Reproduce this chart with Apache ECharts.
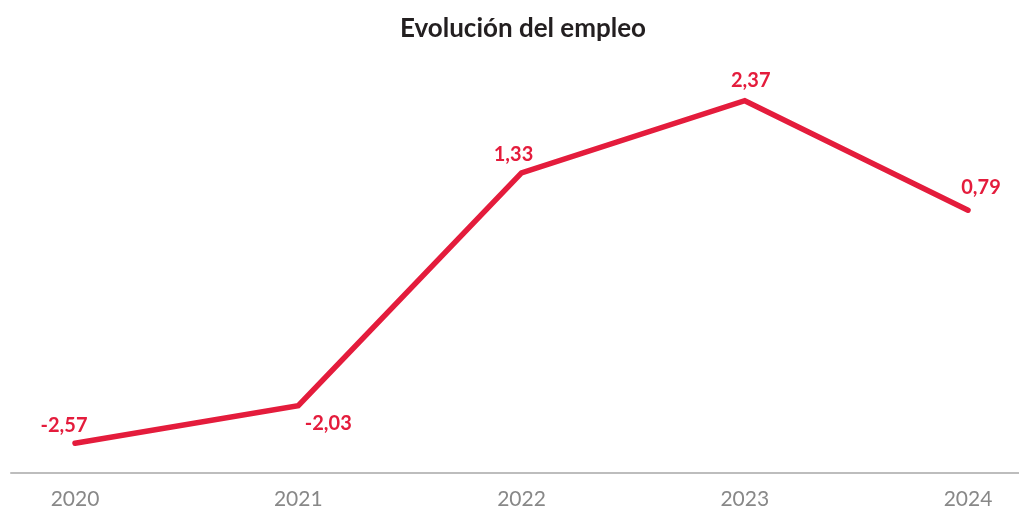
<!DOCTYPE html>
<html>
<head>
<meta charset="utf-8">
<script src="https://cdn.jsdelivr.net/npm/echarts@6/dist/echarts.min.js"></script>
<style>
  html, body { margin: 0; padding: 0; background: #fff; }
  #chart { width: 1019px; height: 510px; }
</style>
</head>
<body>
<div id="chart"></div>
<script>
const years = [2020, 2021, 2022, 2023, 2024]
const empleo = [-2.57, -2.03, 1.33, 2.37, 0.79]

// label offsets (px) relative to each point
const labelOffsets = [[-11, -18], [30, 18], [-8, -18], [6, -20], [13, -23]]

const red = '#E41C3C'
const chart = echarts.init(document.getElementById('chart'))

const option = {
  animation: false,
  title: {
    text: 'Evolución del empleo',
    left: 395,
    top: 11,
    textStyle: { fontFamily: 'Lato', fontWeight: 'bold', fontSize: 26, color: '#231F20' }
  },
  grid: { left: 11, right: 0, top: 57, bottom: 33 },
  xAxis: {
    type: 'value',
    min: 2019.7133,
    max: 2024.2284,
    axisLine: { show: true, onZero: false, lineStyle: { color: '#BDBDBD', width: 2 } },
    axisTick: { show: false },
    splitLine: { show: false },
    axisLabel: {
      customValues: years,
      formatter: v => String(v),
      color: '#888',
      fontFamily: 'Lato',
      fontSize: 21,
      margin: 16
    }
  },
  yAxis: {
    type: 'value',
    min: -3,
    max: 3,
    show: false
  },
  series: [{
    type: 'line',
    data: years.map((y, i) => ({
      value: [y, empleo[i]],
      label: { offset: labelOffsets[i] }
    })),
    symbol: 'circle',
    symbolSize: 1,
    itemStyle: { color: red },
    lineStyle: { color: red, width: 5.5, cap: 'round', join: 'miter' },
    label: {
      show: true,
      position: 'inside',
      formatter: p => p.value[1].toFixed(2).replace('.', ','),
      color: red,
      fontFamily: 'Lato',
      fontWeight: 'bold',
      fontSize: 20
    }
  }]
}

chart.setOption(option)
</script>
</body>
</html>
